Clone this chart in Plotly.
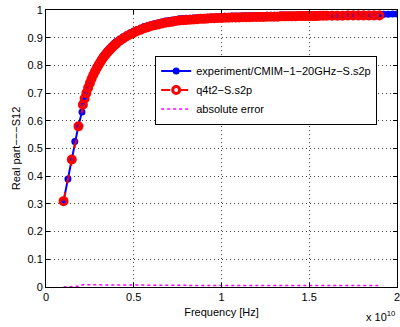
import numpy as np
import plotly.graph_objects as go

# Frequency grid in GHz
freq_ghz = [1.0, 1.25, 1.47, 1.64, 1.85, 2.05,
            2.1, 2.2, 2.3, 2.4, 2.5, 2.6, 2.7, 2.8, 2.9, 3.0,
            3.1, 3.2, 3.3, 3.4, 3.5, 3.6, 3.7, 3.8, 3.9, 4.0,
            4.2, 4.4, 4.6, 4.8, 5.0, 5.2, 5.4, 5.6, 5.8, 6.0,
            6.2, 6.4, 6.6, 6.8, 7.0, 7.2, 7.4, 7.6, 7.8, 8.0,
            8.2, 8.4, 8.6, 8.8, 9.0, 9.2, 9.4, 9.6, 9.8, 10.0,
            10.2, 10.4, 10.6, 10.8, 11.0, 11.2, 11.4, 11.6, 11.8, 12.0,
            12.2, 12.4, 12.6, 12.8, 13.0, 13.2, 13.4, 13.6, 13.8, 14.0,
            14.2, 14.4, 14.6, 14.8, 15.0, 15.2, 15.4, 15.6, 15.8, 16.0,
            16.3, 16.6, 16.9, 17.2, 17.5, 17.8, 18.1, 18.4, 18.7, 19.0,
            19.25, 19.5, 19.75, 20.0]

# Measured real part of S12 (experiment/CMIM-1-20GHz-S.s2p)
experiment = [0.31, 0.39, 0.462, 0.525, 0.583, 0.632,
              0.666, 0.688, 0.708, 0.727, 0.744, 0.760, 0.774, 0.787, 0.799, 0.810,
              0.820, 0.830, 0.839, 0.847, 0.855, 0.862, 0.868, 0.875, 0.881, 0.886,
              0.895, 0.903, 0.911, 0.918, 0.924, 0.930, 0.935, 0.940, 0.944, 0.948,
              0.951, 0.954, 0.957, 0.960, 0.962, 0.964, 0.966, 0.968, 0.969, 0.970,
              0.970, 0.971, 0.972, 0.973, 0.973, 0.974, 0.975, 0.975, 0.976, 0.976,
              0.977, 0.977, 0.978, 0.978, 0.978, 0.979, 0.979, 0.979, 0.980, 0.980,
              0.980, 0.980, 0.981, 0.981, 0.981, 0.981, 0.982, 0.982, 0.982, 0.982,
              0.982, 0.983, 0.983, 0.983, 0.983, 0.983, 0.983, 0.984, 0.984, 0.984,
              0.984, 0.984, 0.984, 0.985, 0.985, 0.985, 0.985, 0.985, 0.985, 0.985,
              0.985, 0.985, 0.986, 0.986]

# Model real part of S12 (q4t2-S.s2p); None where the model has no sample
model = [0.31, None, 0.46, None, 0.58, None,
         0.658, 0.680, 0.700, 0.719, 0.736, 0.752, 0.766, 0.779, 0.791, 0.802,
         0.812, 0.822, 0.831, 0.839, 0.847, 0.854, 0.860, 0.867, 0.873, 0.878,
         0.889, 0.897, 0.905, 0.912, 0.918, 0.924, 0.929, 0.934, 0.938, 0.942,
         0.945, 0.948, 0.951, 0.954, 0.956, 0.958, 0.960, 0.962, 0.963, 0.964,
         0.965, 0.966, 0.967, 0.968, 0.968, 0.969, 0.970, 0.970, 0.971, 0.971,
         0.972, 0.972, 0.973, 0.973, 0.973, 0.974, 0.974, 0.974, 0.975, 0.975,
         0.975, 0.975, 0.976, 0.976, 0.976, 0.976, 0.977, 0.977, 0.977, 0.977,
         0.977, 0.978, 0.978, 0.978, 0.978, 0.978, 0.978, 0.979, 0.979, 0.979,
         0.979, 0.979, 0.979, 0.980, 0.980, 0.980, 0.980, 0.980, 0.980, 0.980,
         None, None, None, None]

x_tick_vals = [0, 0.5e10, 1e10, 1.5e10, 2e10]
x_tick_text = ["0", "0.5", "1", "1.5", "2"]
y_tick_vals = [0, 0.1, 0.2, 0.3, 0.4, 0.5, 0.6, 0.7, 0.8, 0.9, 1.0]
y_tick_text = ["0", "0.1", "0.2", "0.3", "0.4", "0.5", "0.6", "0.7", "0.8", "0.9", "1"]

freq_hz = np.array(freq_ghz) * 1e9
exp_arr = np.array(experiment, dtype=float)
mod_arr = np.array([np.nan if v is None else v for v in model], dtype=float)
err_mask = ~np.isnan(mod_arr)
err_x = freq_hz[err_mask]
err_y = np.abs(exp_arr[err_mask] - mod_arr[err_mask])

FONT = "Liberation Sans, Arial, Helvetica, sans-serif"

fig = go.Figure()
fig.add_trace(go.Scatter(
    x=freq_hz, y=exp_arr, mode="lines+markers",
    name="experiment/CMIM−1−20GHz−S.s2p",
    line=dict(color="#0000ff", width=2),
    marker=dict(color="#0000ff", size=7, symbol="circle"),
))
fig.add_trace(go.Scatter(
    x=freq_hz, y=mod_arr, mode="lines+markers", connectgaps=True,
    name="q4t2−S.s2p",
    line=dict(color="#ff0000", width=2, dash="dash"),
    marker=dict(color="#ff0000", size=7, symbol="circle-open", line=dict(width=3)),
))
fig.add_trace(go.Scatter(
    x=err_x, y=err_y, mode="lines",
    name="absolute error",
    line=dict(color="#ff00ff", width=1.5, dash="dot"),
))

axis_common = dict(
    showline=True, linecolor="black", linewidth=1, mirror="ticks",
    ticks="inside", ticklen=4, tickcolor="black",
    showgrid=True, gridcolor="#444444", griddash="1px,3px", gridwidth=1,
    zeroline=False, automargin=False, ticklabeloverflow="allow",
    tickfont=dict(family=FONT, size=11, color="black"),
)

fig.update_layout(
    width=400, height=327,
    margin=dict(l=46, r=3, t=10, b=40),
    paper_bgcolor="white", plot_bgcolor="white",
    font=dict(family=FONT, size=11, color="black"),
    showlegend=True,
    legend=dict(
        x=0.311, y=0.711, xanchor="left", yanchor="middle",
        bgcolor="white", bordercolor="black", borderwidth=1,
        font=dict(family=FONT, size=11, color="black"),
        tracegroupgap=0, itemwidth=30,
    ),
    xaxis=dict(
        range=[0, 2e10], tickvals=x_tick_vals, ticktext=x_tick_text,
        title=dict(text="Frequency [Hz]", font=dict(family=FONT, size=11), standoff=6),
        **axis_common,
    ),
    yaxis=dict(
        range=[0, 1], tickvals=y_tick_vals, ticktext=y_tick_text,
        title=dict(text="Real part−−−S12", font=dict(family=FONT, size=11), standoff=4),
        **axis_common,
    ),
)

fig.add_annotation(
    xref="paper", yref="paper", x=1.0, y=-0.137, xanchor="right", yanchor="bottom",
    text="x 10<sup>10</sup>", showarrow=False,
    font=dict(family=FONT, size=11, color="black"),
)

fig.write_html(
    "out.html",
    config={"displayModeBar": False},
    post_script="document.body.style.margin='0';document.body.style.overflow='hidden';",
)
